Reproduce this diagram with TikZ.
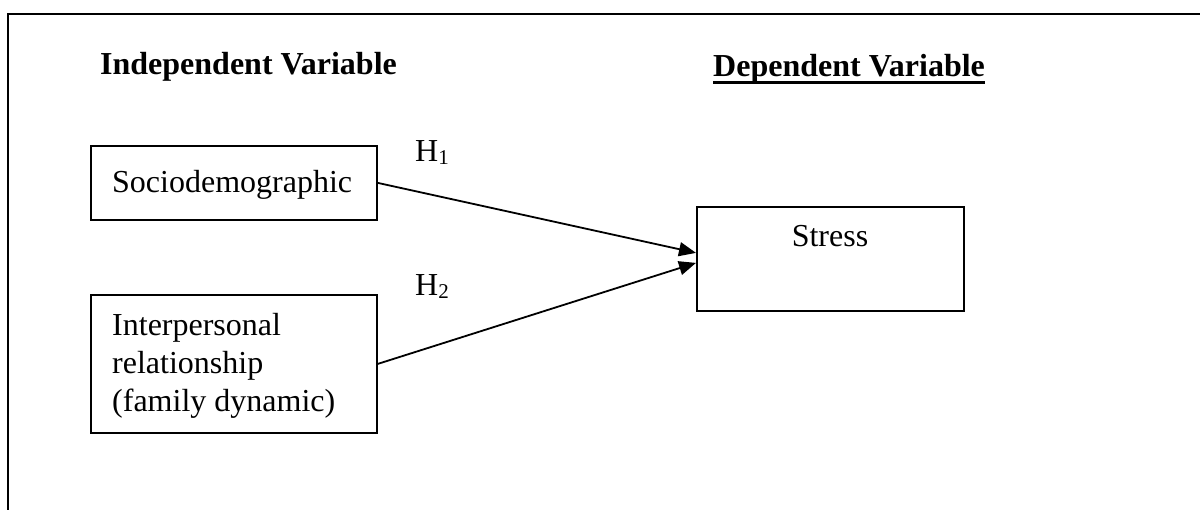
\documentclass[tikz,border=0pt]{standalone}
\usepackage{fontspec}
\setmainfont{Liberation Serif}
\usetikzlibrary{arrows.meta}
\tikzset{
  box/.style={draw, line width=1.8pt, rectangle, inner sep=0pt, anchor=north west},
  txt/.style={inner sep=0pt, font=\fontsize{32}{38}\selectfont},
  head/.style={inner sep=0pt, font=\fontsize{32}{38}\selectfont\bfseries},
  arr/.style={line width=1.8pt, -{Triangle[length=17pt,width=14pt]}},
}
\begin{document}
\begin{tikzpicture}[x=1pt,y=-1pt]
\useasboundingbox (0,0) rectangle (1200,510);
% frame
\draw[line width=2.2pt] (8,510) -- (8,14) -- (1200,14);
% headers
\node[head, anchor=base west] (indep) at (100,75) {Independent Variable};
\node[head, anchor=base west] (dep) at (713,77) {Dependent Variable};
\draw[line width=3pt] ([yshift=-6pt]dep.base west) -- ([yshift=-6pt]dep.base east);
% boxes
\node[box, minimum width=286pt, minimum height=74pt] (socio) at (90,145) {};
\node[box, minimum width=286pt, minimum height=138pt] (inter) at (90,294) {};
\node[box, minimum width=267pt, minimum height=104pt] (stress) at (696,206) {};
% box texts
\node[txt, anchor=base west] (sociot) at (112,193) {Sociodemographic};
\node[txt, anchor=base west, align=left] (intert) at (112,412) {Interpersonal\\relationship\\(family dynamic)};
\node[txt, anchor=base] (stresst) at (830,247) {Stress};
% hypotheses
\node[txt, anchor=base west] (h1) at (415,162) {H\raisebox{-3pt}{\fontsize{21}{24}\selectfont 1}};
\node[txt, anchor=base west] (h2) at (415,296) {H\raisebox{-3pt}{\fontsize{21}{24}\selectfont 2}};
% arrows
\draw[arr] (socio.east) -- ([yshift=6pt]stress.west);
\draw[arr] (inter.east) -- ([yshift=-4pt]stress.west);
\end{tikzpicture}
\end{document}
